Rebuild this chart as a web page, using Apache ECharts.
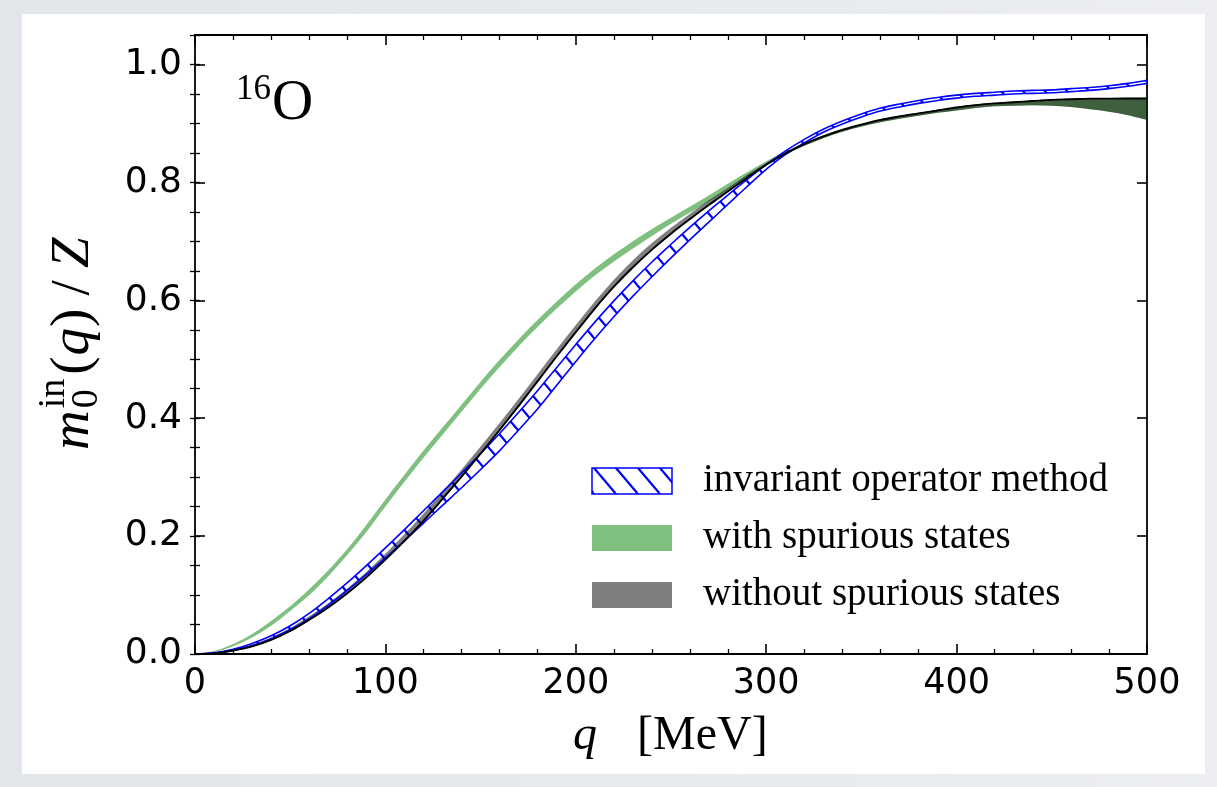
<!DOCTYPE html>
<html><head><meta charset="utf-8">
<script src="https://cdn.jsdelivr.net/npm/echarts@6/dist/echarts.min.js"></script>
<style>
html,body{margin:0;padding:0;width:1217px;height:787px;overflow:hidden;background:linear-gradient(90deg,#e2e6ea,#eceef1);}
#panel{position:absolute;left:22px;top:14px;width:1183px;height:760px;background:#fff;}
#chart{position:absolute;left:0;top:0;width:1217px;height:787px;}
</style></head>
<body><div id="panel"></div><div id="chart"></div>
<script>
const Q = [0,10,20,30,40,50,60,70,80,90,100,110,120,130,140,150,160,170,180,190,200,210,220,230,240,250,260,270,280,290,300,310,320,330,340,350,360,370,380,390,400,410,420,430,440,450,460,470,480,490,500];
const xTicks = [0,100,200,300,400,500];
const yTicks = [0.0,0.2,0.4,0.6,0.8,1.0];
const blackLine = [0,0.001,0.006,0.013,0.024,0.039,0.058,0.079,0.103,0.130,0.160,0.192,0.226,0.263,0.301,0.340,0.380,0.421,0.463,0.505,0.546,0.586,0.623,0.656,0.686,0.713,0.738,0.762,0.785,0.808,0.830,0.849,0.865,0.878,0.889,0.898,0.906,0.912,0.917,0.922,0.927,0.931,0.934,0.936,0.938,0.940,0.941,0.942,0.942,0.942,0.942];
const grayLow = [0,0.001,0.005,0.012,0.023,0.038,0.057,0.078,0.102,0.129,0.159,0.191,0.225,0.262,0.300,0.339,0.379,0.420,0.462,0.504,0.545,0.585,0.622,0.655,0.685,0.712,0.737,0.761,0.784,0.807,0.829,0.847,0.862,0.875,0.886,0.895,0.902,0.908,0.913,0.918,0.922,0.926,0.929,0.930,0.931,0.930,0.928,0.924,0.920,0.914,0.906];
const grayHigh = [0,0.002,0.008,0.016,0.028,0.044,0.064,0.086,0.111,0.139,0.170,0.203,0.238,0.275,0.313,0.352,0.392,0.433,0.475,0.517,0.558,0.598,0.635,0.668,0.697,0.723,0.747,0.770,0.791,0.813,0.833,0.851,0.866,0.879,0.890,0.899,0.907,0.913,0.918,0.923,0.928,0.932,0.935,0.937,0.939,0.941,0.942,0.943,0.943,0.944,0.944];
const greenLow = [0,0.003,0.013,0.028,0.048,0.073,0.100,0.132,0.168,0.207,0.250,0.292,0.333,0.372,0.411,0.450,0.487,0.522,0.555,0.586,0.615,0.642,0.666,0.688,0.709,0.730,0.749,0.768,0.788,0.809,0.828,0.847,0.862,0.875,0.886,0.895,0.902,0.908,0.913,0.918,0.922,0.926,0.929,0.930,0.931,0.930,0.928,0.924,0.920,0.914,0.906];
const greenHigh = [0,0.005,0.017,0.034,0.056,0.081,0.110,0.142,0.178,0.219,0.262,0.304,0.345,0.384,0.423,0.462,0.499,0.534,0.567,0.598,0.627,0.654,0.678,0.700,0.721,0.740,0.759,0.778,0.798,0.817,0.836,0.852,0.867,0.880,0.891,0.900,0.907,0.913,0.918,0.923,0.928,0.932,0.935,0.937,0.939,0.941,0.942,0.943,0.943,0.944,0.944];
const blueLow = [0,0.001,0.006,0.014,0.026,0.041,0.060,0.083,0.108,0.135,0.163,0.192,0.222,0.252,0.282,0.313,0.345,0.380,0.416,0.456,0.496,0.535,0.572,0.607,0.640,0.672,0.703,0.733,0.763,0.793,0.822,0.847,0.867,0.885,0.899,0.911,0.921,0.928,0.934,0.939,0.943,0.946,0.948,0.950,0.951,0.952,0.954,0.956,0.959,0.963,0.968];
const blueHigh = [0,0.002,0.008,0.018,0.031,0.048,0.069,0.094,0.121,0.150,0.180,0.211,0.243,0.275,0.307,0.340,0.374,0.410,0.447,0.486,0.525,0.563,0.599,0.633,0.665,0.695,0.724,0.752,0.779,0.805,0.830,0.853,0.873,0.890,0.904,0.916,0.926,0.933,0.939,0.944,0.948,0.951,0.953,0.955,0.956,0.957,0.959,0.961,0.964,0.968,0.973];
const legendLabels = ['invariant operator method','with spurious states','without spurious states'];

// hatch pattern
const hc = document.createElement('canvas'); hc.width = 22; hc.height = 26;
const hg = hc.getContext('2d'); hg.strokeStyle = '#0000ff'; hg.lineWidth = 2.2;
for (const off of [-22, 0, 22]) { hg.beginPath(); hg.moveTo(off-22, -26); hg.lineTo(off+44, 52); hg.stroke(); }
const hatch = {image: hc, repeat: 'repeat'};

const GREEN = 'rgba(0,128,0,0.5)', GRAY = 'rgba(0,0,0,0.5)', BLUE = '#0000ff';

// Catmull-Rom -> cubic Bezier path through screen points (rendering only)
function crPath(pts, first) {
  let d = (first ? 'M' : 'L') + pts[0][0].toFixed(2) + ',' + pts[0][1].toFixed(2);
  for (let i = 0; i < pts.length - 1; i++) {
    const p0 = pts[Math.max(i-1,0)], p1 = pts[i], p2 = pts[i+1], p3 = pts[Math.min(i+2, pts.length-1)];
    const c1x = p1[0] + (p2[0]-p0[0])/6, c1y = p1[1] + (p2[1]-p0[1])/6;
    const c2x = p2[0] - (p3[0]-p1[0])/6, c2y = p2[1] - (p3[1]-p1[1])/6;
    d += ' C' + c1x.toFixed(2) + ',' + c1y.toFixed(2) + ' ' + c2x.toFixed(2) + ',' + c2y.toFixed(2) + ' ' + p2[0].toFixed(2) + ',' + p2[1].toFixed(2);
  }
  return d;
}
function bandSeries(name, lo, hi, style) {
  return {type:'custom', name, silent:true, animation:false, coordinateSystem:'cartesian2d', xAxisIndex:0, yAxisIndex:0,
    data:[[0,0]], encode:{x:0, y:1}, clip:true,
    renderItem:(params, api) => {
      const up = Q.map((q,i) => api.coord([q, hi[i]]));
      const dn = Q.map((q,i) => api.coord([q, lo[i]])).reverse();
      return {type:'path', shape:{pathData: crPath(up, true) + ' ' + crPath(dn, false) + ' Z'}, style: Object.assign({stroke:'none', lineWidth:0}, style)};
    }};
}
function lineSeries(name, ys, color, width) {
  return {type:'custom', name, silent:true, animation:false, coordinateSystem:'cartesian2d', xAxisIndex:0, yAxisIndex:0,
    data:[[0,0]], encode:{x:0, y:1}, clip:true,
    renderItem:(params, api) => {
      const pts = Q.map((q,i) => api.coord([q, ys[i]]));
      return {type:'path', shape:{pathData: crPath(pts, true)}, style:{fill:'none', stroke:color, lineWidth:width, lineJoin:'round'}};
    }};
}

const tickStyle = {color:'#000', width:1.6};
const axLine = {show:true, onZero:false, lineStyle:{color:'#000', width:1.8}};
const yFmt = v => (yTicks.some(t => Math.abs(t - v) < 1e-6) ? v.toFixed(1) : '');

// y label pieces (mathtext-like)
const mctx = document.createElement('canvas').getContext('2d');
function mw(txt, font){ mctx.font = font; return mctx.measureText(txt).width; }
const FS = 55, FSS = 38, SER = '"Liberation Serif"';
const yParts = [];
let px = 0;
yParts.push({t:'m', it:true, fs:FS, x:px, y:0}); px += mw('m', `italic ${FS}px ${SER}`) + 2;
yParts.push({t:'0', it:false, fs:FSS, x:px, y:13});
yParts.push({t:'in', it:false, fs:FSS, x:px, y:-20});
px += Math.max(mw('0', `${FSS}px ${SER}`), mw('in', `${FSS}px ${SER}`)) + 4;
for (const [t,it] of [['(',false],['q',true],[')',false]]) {
  yParts.push({t, it, fs:FS, x:px, y:0}); px += mw(t, `${it?'italic ':''}${FS}px ${SER}`) + 1;
}
px += 0.22*FS;
yParts.push({t:'/', it:false, fs:FS, x:px, y:0}); px += mw('/', `${FS}px ${SER}`) + 0.22*FS;
yParts.push({t:'Z', it:true, fs:FS, x:px, y:0});
const yLabelGroup = {
  type:'group', x:74, y:450, rotation:Math.PI/2, silent:true, z:100,
  children: yParts.map(p => ({type:'text', x:p.x, y:p.y, style:{text:p.t, fontFamily:SER, fontSize:p.fs, fontStyle:p.it?'italic':'normal', fill:'#000', verticalAlign:'middle', align:'left'}}))
};

const legendY = [481, 538, 595];
const graphic = [
  yLabelGroup,
  {type:'text', x:573, y:736, z:100, silent:true, style:{text:'q', fontFamily:SER, fontSize:48, fontStyle:'italic', fill:'#000', verticalAlign:'middle'}},
  {type:'text', x:637, y:736, z:100, silent:true, style:{text:'[MeV]', fontFamily:SER, fontSize:48, fill:'#000', verticalAlign:'middle'}},
  {type:'text', x:236, y:90, z:100, silent:true, style:{text:'16', fontFamily:SER, fontSize:35, fill:'#000', verticalAlign:'middle'}},
  {type:'text', x:272, y:104, z:100, silent:true, style:{text:'O', fontFamily:SER, fontSize:57, fill:'#000', verticalAlign:'middle'}},
  {type:'rect', z:100, silent:true, shape:{x:592, y:legendY[0]-13, width:80, height:26}, style:{fill:hatch, stroke:BLUE, lineWidth:1.5}},
  {type:'rect', z:100, silent:true, shape:{x:592, y:legendY[1]-13, width:80, height:26}, style:{fill:GREEN}},
  {type:'rect', z:100, silent:true, shape:{x:592, y:legendY[2]-13, width:80, height:26}, style:{fill:GRAY}},
].concat(legendLabels.map((t,i)=>({type:'text', x:703, y:legendY[i], z:100, silent:true, style:{text:t, fontFamily:SER, fontSize:39, fill:'#000', verticalAlign:'middle'}})));

const chart = echarts.init(document.getElementById('chart'), null, {renderer:'canvas'});
chart.setOption({
  backgroundColor:'transparent',
  animation:false,
  grid:{left:195, right:70, top:35, bottom:133, containLabel:false},
  xAxis:[
    {type:'value', min:0, max:500, interval:100, position:'bottom', axisLine:axLine,
     axisTick:{show:true, inside:true, length:10, lineStyle:tickStyle},
     minorTick:{show:true, splitNumber:5, length:5, lineStyle:{color:'#000', width:1.3}},
     axisLabel:{show:true, margin:12, color:'#000', fontFamily:'DejaVu Sans', fontSize:35, formatter:v => xTicks.includes(v) ? String(v) : ''},
     splitLine:{show:false}, minorSplitLine:{show:false}},
    {type:'value', min:0, max:500, interval:100, position:'top', axisLine:axLine,
     axisTick:{show:true, inside:true, length:10, lineStyle:tickStyle},
     minorTick:{show:true, splitNumber:5, length:5, lineStyle:{color:'#000', width:1.3}},
     axisLabel:{show:false}, splitLine:{show:false}}
  ],
  yAxis:[
    {type:'value', min:0, max:1.05, interval:0.2, position:'left', axisLine:axLine,
     axisTick:{show:true, inside:true, length:10, lineStyle:tickStyle},
     axisLabel:{show:true, margin:13, color:'#000', fontFamily:'DejaVu Sans', fontSize:36, formatter:yFmt},
     splitLine:{show:false}},
    {type:'value', min:0, max:1.05, interval:0.2, position:'right', axisLine:axLine,
     axisTick:{show:true, inside:true, length:10, lineStyle:tickStyle},
     axisLabel:{show:false}, splitLine:{show:false}},
    {type:'value', min:0, max:1.05, interval:0.05, position:'left', axisLine:{show:false},
     axisTick:{show:true, inside:true, length:5, lineStyle:{color:'#000', width:1.3}},
     axisLabel:{show:false}, splitLine:{show:false}},
    {type:'value', min:0, max:1.05, interval:0.05, position:'right', axisLine:{show:false},
     axisTick:{show:true, inside:true, length:5, lineStyle:{color:'#000', width:1.3}},
     axisLabel:{show:false}, splitLine:{show:false}}
  ],
  series:[
    bandSeries('with spurious states', greenLow, greenHigh, {fill:GREEN}),
    bandSeries('invariant operator method', blueLow, blueHigh, {fill:hatch}),
    bandSeries('without spurious states', grayLow, grayHigh, {fill:GRAY}),
    lineSeries('blueHigh', blueHigh, BLUE, 1.6),
    lineSeries('blueLow', blueLow, BLUE, 1.6),
    lineSeries('black', blackLine, '#000', 1.9)
  ],
  graphic: graphic
});
</script>
</body></html>
